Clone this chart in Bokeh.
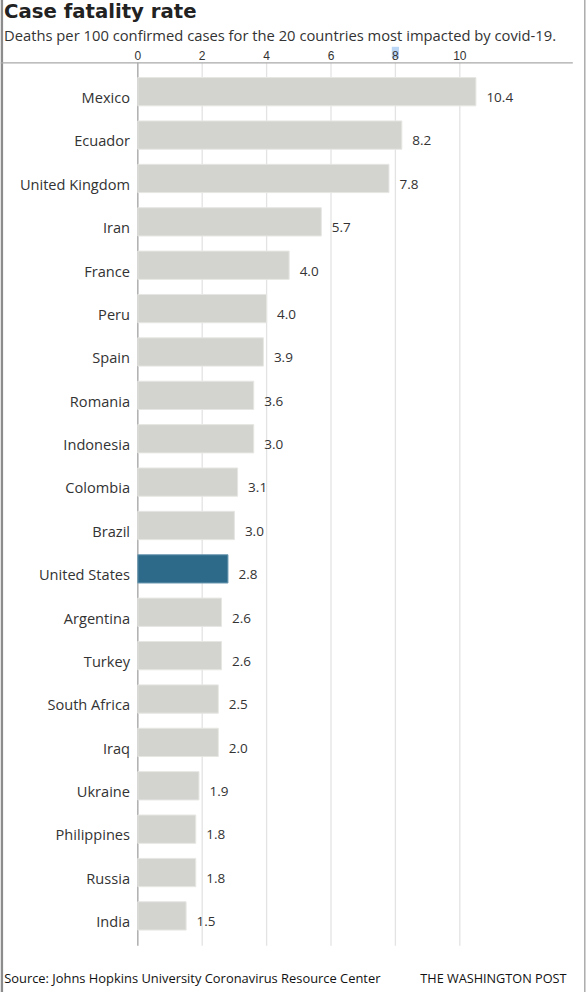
from bokeh.plotting import figure
from bokeh.models import Range1d, ColumnDataSource
from bokeh.core.properties import value
from bokeh.embed import file_html
from bokeh.resources import INLINE

# ---------------- data ----------------
countries = ["Mexico", "Ecuador", "United Kingdom", "Iran", "France", "Peru", "Spain",
             "Romania", "Indonesia", "Colombia", "Brazil", "United States", "Argentina",
             "Turkey", "South Africa", "Iraq", "Ukraine", "Philippines", "Russia", "India"]
bar_values = [10.5, 8.2, 7.8, 5.7, 4.7, 4.0, 3.9, 3.6, 3.6, 3.1, 3.0, 2.8, 2.6, 2.6,
              2.5, 2.5, 1.9, 1.8, 1.8, 1.5]
value_labels = ["10.4", "8.2", "7.8", "5.7", "4.0", "4.0", "3.9", "3.6", "3.0", "3.1",
                "3.0", "2.8", "2.6", "2.6", "2.5", "2.0", "1.9", "1.8", "1.8", "1.5"]
highlight = "United States"
tick_values = [0, 2, 4, 6, 8, 10]
tick_labels = ["0", "2", "4", "6", "8", "10"]
title_text = "Case fatality rate"
subtitle_text = "Deaths per 100 confirmed cases for the 20 countries most impacted by covid-19."
source_text = "Source: Johns Hopkins University Coronavirus Resource Center"
credit_text = "THE WASHINGTON POST"

# ---------------- layout helpers (pixel -> data) ----------------
W, H = 586, 1000
X0_PX = 137.3        # x of value 0
PX_PER_UNIT = 32.2   # pixels per unit on the value axis
ROW0_PX = 99.2       # y of first row centre
ROW_PX = 43.38       # row pitch in pixels


def xd(px):
    return (px - X0_PX) / PX_PER_UNIT


def yd(py):
    return (py - ROW0_PX) / ROW_PX


GRAY = "#d3d3cf"
GRAY_EDGE = "#e6e6e3"
BLUE = "#2d6a89"
BLUE_EDGE = "#6f9bb3"
TEXT = "#333333"

p = figure(width=W, height=H,
           x_range=Range1d(xd(0), xd(W)),
           y_range=Range1d(yd(H), yd(0)),
           x_axis_location=None, y_axis_location=None,
           toolbar_location=None, output_backend="svg", min_border=0,
           outline_line_color=None, background_fill_color="white",
           border_fill_color="white",
           styles={"margin-top": "-8px"})
p.grid.visible = False

rows = list(range(len(countries)))
src = ColumnDataSource(dict(
    country=countries,
    row=rows,
    val=bar_values,
    label=value_labels,
    fill=[BLUE if c == highlight else GRAY for c in countries],
    edge=[BLUE_EDGE if c == highlight else GRAY_EDGE for c in countries],
))

# frame lines (left / right edges of the graphic)
p.segment(x0=[xd(1.3)], y0=[yd(0)], x1=[xd(1.3)], y1=[yd(H)], line_color="#8c8c8c", line_width=2.6)
p.segment(x0=[xd(584.3)], y0=[yd(0)], x1=[xd(584.3)], y1=[yd(H)], line_color="#a6a6a6", line_width=1.4)

# gridlines
grid_vals = [t for t in tick_values if t != 0]
p.segment(x0=grid_vals, y0=yd(70.3), x1=grid_vals, y1=yd(953.3), line_color="#e3e3e3", line_width=1.3)
p.segment(x0=[0], y0=[yd(70.3)], x1=[0], y1=[yd(953.3)], line_color="#b3b3b3", line_width=1.6)
p.segment(x0=[xd(0)], y0=[yd(70.3)], x1=[xd(572.3)], y1=[yd(70.3)], line_color="#a9a9a9", line_width=1.3)

# bars
p.hbar(y="row", left=0, right="val", height=0.652, fill_color="fill",
       line_color="edge", line_width=1, source=src)

# selection highlight behind the "8" tick label (as in the reference)
p.quad(left=[8 - 3.6 / PX_PER_UNIT], right=[8 + 3.6 / PX_PER_UNIT],
       bottom=[yd(65.7)], top=[yd(54.3)], fill_color="#bcd6f5", line_color=None)

# tick labels
p.text(x=tick_values, y=yd(63.3), text=tick_labels, text_align="center",
       text_baseline="alphabetic", text_font=value("Liberation Sans"),
       text_font_size="12px", text_color=TEXT)

# category labels
p.text(x=xd(129.5), y="row", text="country", source=src, text_align="right",
       text_baseline="alphabetic", y_offset=5.3, text_font=value("Open Sans"),
       text_font_size="14.6px", text_color=TEXT)

# value labels
p.text(x="val", y="row", text="label", source=src, x_offset=10.5, text_align="left",
       text_baseline="alphabetic", y_offset=5.8, text_font=value("Open Sans"),
       text_font_size="13.5px", text_color=TEXT)

# title, subtitle, source
p.text(x=[xd(3.5)], y=[yd(18.5)], text=[title_text], text_align="left",
       text_baseline="alphabetic", text_font=value("DejaVu Sans"),
       text_font_style="bold", text_font_size="19.7px", text_color="#222222")
p.text(x=[xd(3.5)], y=[yd(42.3)], text=[subtitle_text], text_align="left",
       text_baseline="alphabetic", text_font=value("Open Sans"),
       text_font_size="14.75px", text_color=TEXT)
p.text(x=[xd(3.7)], y=[yd(985.5)], text=[source_text], text_align="left",
       text_baseline="alphabetic", text_font=value("Open Sans"),
       text_font_size="12.9px", text_color="#111111")
p.text(x=[xd(566)], y=[yd(985.5)], text=[credit_text], text_align="right",
       text_baseline="alphabetic", text_font=value("Open Sans"),
       text_font_size="12.7px", text_color="#111111")

open("out.html", "w").write(file_html(p, INLINE))
